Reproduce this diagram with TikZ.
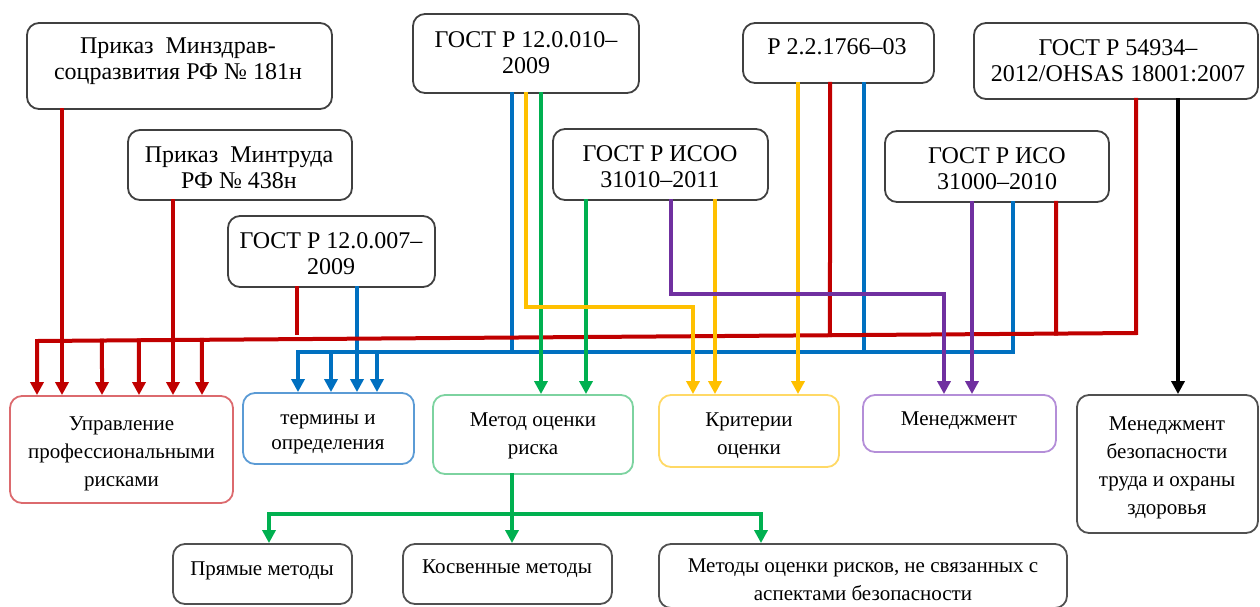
\documentclass[tikz,border=0pt]{standalone}
\usepackage{fontspec}
\setmainfont{Liberation Serif}
\usetikzlibrary{arrows.meta,calc}
\definecolor{lred}{HTML}{C00000}
\definecolor{lblue}{HTML}{0070C0}
\definecolor{lgreen}{HTML}{00B050}
\definecolor{lyellow}{HTML}{FFC000}
\definecolor{lpurple}{HTML}{7030A0}
\definecolor{boxgray}{HTML}{404040}
\definecolor{bred}{HTML}{DC6A6E}
\definecolor{bblue}{HTML}{5B9BD5}
\definecolor{bgreen}{HTML}{7DD3A0}
\definecolor{byellow}{HTML}{FFD966}
\definecolor{bpurple}{HTML}{B48ED8}
\definecolor{bgray}{HTML}{505050}
\begin{document}
\begin{tikzpicture}[x=0.5pt,y=-0.5pt,
  bx/.style 2 args={rectangle, rounded corners=6pt, inner sep=0pt, line width=0.9pt,
     minimum width=#1*0.5pt, minimum height=#2*0.5pt},
  topbox/.style={draw=boxgray},
  ttop/.style={align=center, inner sep=0pt, yshift=-0.75pt, font=\fontsize{12}{13}\selectfont},
  tbot/.style={align=center, inner sep=0pt, yshift=-2pt, font=\fontsize{10.5}{14}\selectfont},
  conn/.style={line width=2pt, line cap=rect},
  arr/.style={conn, -{Triangle[width=6.5pt,length=6.5pt]}}]
\useasboundingbox (0,0) rectangle (1260,606);
% top boxes
\node[bx={305}{86},  topbox] (b1) at (179.5,66) {};
\node[bx={224}{70},  topbox] (b2) at (240,165) {};
\node[bx={207}{71},  topbox] (b3) at (331.5,251.5) {};
\node[bx={226}{79},  topbox] (b4) at (526,53.5) {};
\node[bx={215}{71},  topbox] (b5) at (660.5,164.5) {};
\node[bx={191}{60},  topbox] (b6) at (838.5,53) {};
\node[bx={284}{76},  topbox] (b7) at (1116,61) {};
\node[bx={224}{71},  topbox] (b8) at (997,166.5) {};
% bottom boxes
\node[bx={223}{107}, draw=bred]    (u)   at (121.5,449.5) {};
\node[bx={171}{71},  draw=bblue]   (t)   at (328.5,428.5) {};
\node[bx={200}{79},  draw=bgreen]  (m)   at (533,434.5) {};
\node[bx={180}{72},  draw=byellow] (kr)  at (749,431) {};
\node[bx={193}{57},  draw=bpurple] (men) at (959.5,423.5) {};
\node[bx={181}{138}, draw=bgray]   (mb)  at (1167.5,464) {};
\node[bx={179}{60},  draw=bgray]   (p)   at (262.5,574) {};
\node[bx={209}{60},  draw=bgray]   (k)   at (507.5,574) {};
\node[bx={408}{64},  draw=bgray]   (mo)  at (863,576) {};
% bus coordinates
\coordinate (rbL) at (37,341);
\coordinate (rbR) at (1136,333);
\coordinate (bbL) at (298,352);
\coordinate (bbR) at (1013,352);
\coordinate (gbL) at (269,514);
\coordinate (gbR) at (761,514);
\coordinate (stub) at (297,333);
% blue
\draw[arr, lblue] (1013,0 |- b8.south) -- (bbR) -- (bbL) -- (298,0 |- t.north);
\draw[arr, lblue] (331,0 |- bbL) -- (331,0 |- t.north);
\draw[arr, lblue] (357,0 |- b3.south) -- (357,0 |- t.north);
\draw[arr, lblue] (377,0 |- bbL) -- (377,0 |- t.north);
\draw[conn, lblue] (512,0 |- b4.south) -- (512,0 |- bbL);
\draw[conn, lblue] (864,0 |- b6.south) -- (864,0 |- bbL);
% red
\draw[arr, lred] (1136,0 |- b7.south) -- (rbR) -- (rbL) -- (37,0 |- u.north);
\draw[arr, lred] (62,0 |- b1.south) -- (62,0 |- u.north);
\draw[arr, lred] (173,0 |- b2.south) -- (173,0 |- u.north);
\foreach \xx in {102,139,202}{
  \draw[arr, lred] ($(rbL)!{(\xx-37)/1099}!(rbR)$) -- (\xx,0 |- u.north);
}
\draw[conn, lred] (297,0 |- b3.south) -- (stub);
\draw[conn, lred] (830,0 |- b6.south) -- ($(rbL)!{(830-37)/1099}!(rbR)$);
\draw[conn, lred] (1056,0 |- b8.south) -- ($(rbL)!{(1056-37)/1099}!(rbR)$);
% green
\draw[arr, lgreen] (541,0 |- b4.south) -- (541,0 |- m.north);
\draw[arr, lgreen] (586,0 |- b5.south) -- (586,0 |- m.north);
\draw[arr, lgreen] (512,0 |- m.south) -- (512,0 |- k.north);
\draw[arr, lgreen] (gbR) -- (gbL) -- (269,0 |- p.north);
\draw[arr, lgreen] (gbR) -- (761,0 |- mo.north);
% yellow
\draw[arr, lyellow] (526,0 |- b4.south) -- (526,307) -- (693,307) -- (693,0 |- kr.north);
\draw[arr, lyellow] (715,0 |- b5.south) -- (715,0 |- kr.north);
\draw[arr, lyellow] (798,0 |- b6.south) -- (798,0 |- kr.north);
% purple
\draw[arr, lpurple] (671,0 |- b5.south) -- (671,294) -- (944,294) -- (944,0 |- men.north);
\draw[arr, lpurple] (972,0 |- b8.south) -- (972,0 |- men.north);
% black
\draw[arr, black] (1178,0 |- b7.south) -- (1178,0 |- mb.north);
% texts
\node[ttop] (b1t) at (178,60) {Приказ\ \ Минздрав-\\соцразвития РФ № 181н};
\node[ttop] (b2t) at (239,166) {Приказ\ \ Минтруда\\РФ № 438н};
\node[ttop] (b3t) at (331,252) {ГОСТ Р 12.0.007–\\2009};
\node[ttop] (b4t) at (526,51) {ГОСТ Р 12.0.010–\\2009};
\node[ttop] (b5t) at (660,165) {ГОСТ Р ИСОО\\31010–2011};
\node[ttop] (b6t) at (837,45) {Р 2.2.1766–03};
\node[ttop] (b7t) at (1118,59) {ГОСТ Р 54934–\\2012/OHSAS 18001:2007};
\node[ttop] (b8t) at (997,167) {ГОСТ Р ИСО\\31000–2010};
\node[tbot] (ut) at (121.5,450) {Управление\\профессиональными\\рисками};
\node[tbot, font=\fontsize{10.5}{12.5}\selectfont] (tt) at (328,430) {термины и\\определения};
\node[tbot] (mt) at (533,432) {Метод оценки\\риска};
\node[tbot] (krt) at (749,432) {Критерии\\оценки};
\node[tbot] (ment) at (959,417) {Менеджмент};
\node[tbot] (mbt) at (1167,464) {Менеджмент\\безопасности\\труда и охраны\\здоровья};
\node[tbot] (pt) at (262,567) {Прямые методы};
\node[tbot] (kt) at (507,565) {Косвенные методы};
\node[tbot] (mot) at (863,576) {Методы оценки рисков, не связанных с\\аспектами безопасности};
\end{tikzpicture}
\end{document}
